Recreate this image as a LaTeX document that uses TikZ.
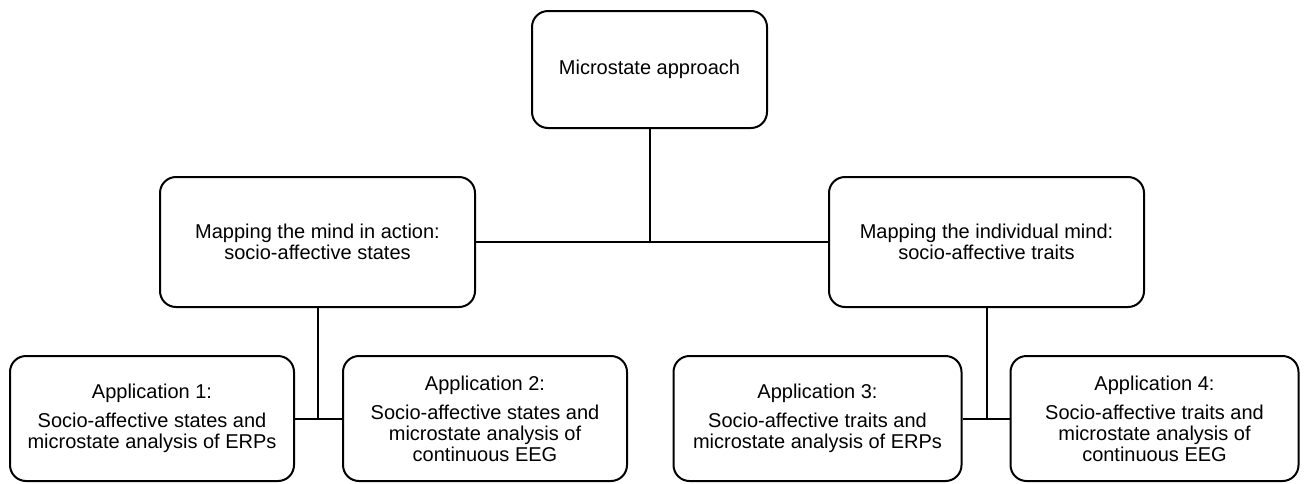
\documentclass[tikz,border=0pt]{standalone}
\usepackage{fontspec}
\setmainfont{Liberation Sans}
\begin{document}
\begin{tikzpicture}[x=0.5pt,y=-0.5pt,
    box/.style={draw,line width=1pt,rounded corners=8pt,align=center,
      inner sep=0pt,font=\fontsize{10}{10.5}\selectfont},
    link/.style={line width=1pt}]
        \useasboundingbox (0,0) rectangle (1309,483);
        % Nodi
        \node[box,minimum width=117.5pt,minimum height=58.5pt] (approach) at (649.5,69.5) {Microstate approach};
        \node[box,minimum width=157.5pt,minimum height=65pt] (states) at (317.5,242) {Mapping the mind in action:\\socio-affective states};
        \node[box,minimum width=157.5pt,minimum height=65pt] (traits) at (986.5,242) {Mapping the individual mind:\\socio-affective traits};
        \node[box,minimum width=142pt,minimum height=62.5pt] (app1) at (152,418.5) {Application 1:\\[4pt]Socio-affective states and\\microstate analysis of ERPs};
        \node[box,minimum width=142pt,minimum height=62.5pt] (app2) at (485,418.5) {Application 2:\\[4pt]Socio-affective states and\\microstate analysis of\\continuous EEG};
        \node[box,minimum width=144pt,minimum height=62.5pt] (app3) at (817.5,418.5) {Application 3:\\[4pt]Socio-affective traits and\\microstate analysis of ERPs};
        \node[box,minimum width=144pt,minimum height=62.5pt] (app4) at (1154.5,418.5) {Application 4:\\[4pt]Socio-affective traits and\\microstate analysis of\\continuous EEG};
        % Collegamenti
        \draw[link] (states.east) -- (traits.west);
        \draw[link] (approach.south) -- (approach.south |- states.east);
        \draw[link] (app1.east) -- (app2.west);
        \draw[link] (states.south) -- (states.south |- app1.east);
        \draw[link] (app3.east) -- (app4.west);
        \draw[link] (traits.south) -- (traits.south |- app3.east);
    \end{tikzpicture}
\end{document}
